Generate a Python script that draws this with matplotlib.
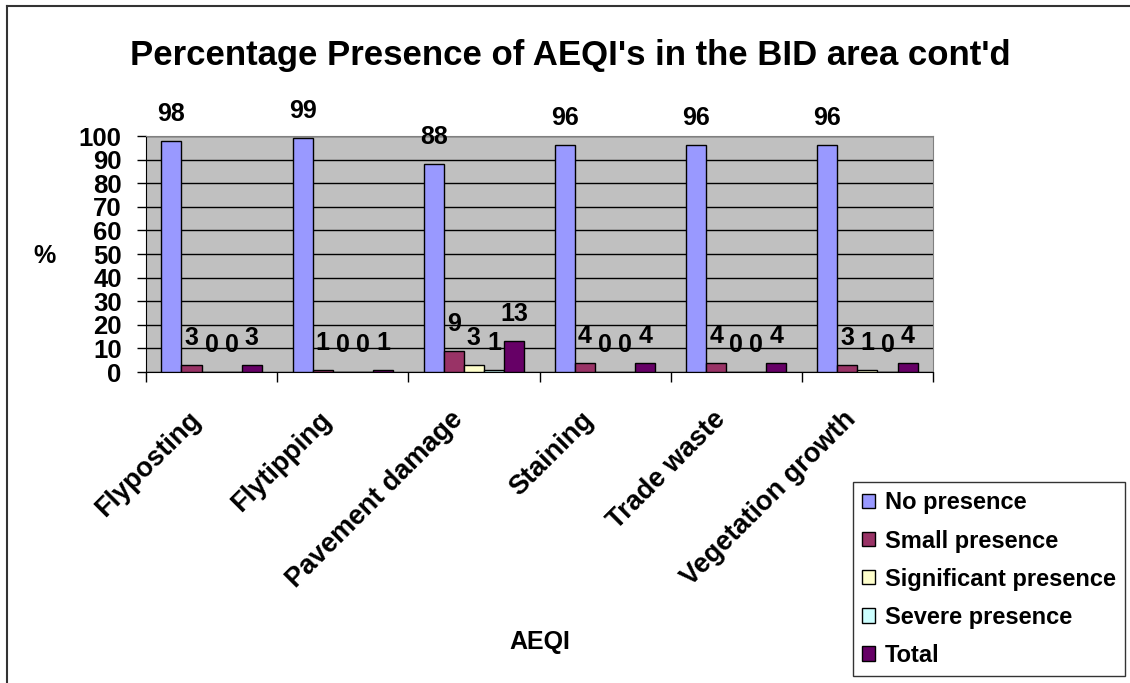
import numpy as np
import matplotlib
matplotlib.use("Agg")
import matplotlib.pyplot as plt
from matplotlib.lines import Line2D
from matplotlib.transforms import ScaledTranslation

plt.rcParams['font.family'] = ['Liberation Sans', 'DejaVu Sans']
plt.rcParams['font.weight'] = 'bold'

categories = ['Flyposting', 'Flytipping', 'Pavement damage', 'Staining',
              'Trade waste', 'Vegetation growth']
series_names = ['No presence', 'Small presence', 'Significant presence',
                'Severe presence', 'Total']
no_presence = [98, 99, 88, 96, 96, 96]
small_presence = [3, 1, 9, 4, 4, 3]
significant_presence = [0, 0, 3, 0, 0, 1]
severe_presence = [0, 0, 1, 0, 0, 0]
total = [3, 1, 13, 4, 4, 4]
yticks = list(range(0, 101, 10))

series = [no_presence, small_presence, significant_presence, severe_presence, total]
colors = ['#9999FF', '#993366', '#FFFFCC', '#CCFFFF', '#660066']

W, H = 1130, 683
fig = plt.figure(figsize=(W / 100, H / 100), dpi=100)
ax = fig.add_axes([146 / W, 1 - 372 / H, (933 - 146) / W, (372 - 136) / H])
ax.set_facecolor('#C0C0C0')

x = np.arange(len(categories))
bw = 0.153
for i, (vals, name, col) in enumerate(zip(series, series_names, colors)):
    pos = x + (i - 2) * bw
    ax.bar(pos, vals, width=bw, color=col, edgecolor='black', linewidth=1,
           label=name, zorder=3)
    for px, v in zip(pos, vals):
        ax.annotate(str(v), (px, v), xytext=(0, 14.4), textcoords='offset points',
                    ha='center', va='baseline', fontsize=18, fontweight='bold',
                    annotation_clip=False, zorder=5)

ax.set_xlim(-0.5, len(categories) - 0.5)
ax.set_ylim(0, 100)
ax.set_yticks(yticks)
ax.set_yticklabels([str(t) for t in yticks], fontsize=18.5, fontweight='bold')
ax.tick_params(axis='y', direction='out', length=6.5, width=1, pad=11)

ax.set_xticks(x)
ax.set_xticklabels(categories, rotation=45, ha='right', va='center',
                   rotation_mode='anchor', fontsize=19.5, fontweight='bold')
ax.tick_params(axis='x', which='major', length=0, pad=31.5)
ax.set_xticks(np.arange(-0.5, len(categories)), minor=True)
ax.tick_params(axis='x', which='minor', direction='out', length=7.2, width=1)
for lab in ax.get_xticklabels():
    lab.set_transform(lab.get_transform() + ScaledTranslation(-0.15, 0, fig.dpi_scale_trans))

ax.yaxis.grid(True, color='black', linewidth=1, zorder=1)
ax.set_axisbelow(True)
for s in ['top', 'right']:
    ax.spines[s].set_color('#808080')
for s in ['left', 'bottom']:
    ax.spines[s].set_color('black')

fig.text(570 / W, 1 - 55 / H, "Percentage Presence of AEQI's in the BID area cont'd",
         ha='center', va='center', fontsize=25, fontweight='bold')
fig.text(45 / W, 1 - 256 / H, '%', ha='center', va='center', fontsize=18,
         fontweight='bold')
fig.text(540 / W, 1 - 642 / H, 'AEQI', ha='center', va='center', fontsize=18,
         fontweight='bold')

leg = fig.legend(loc='upper left', bbox_to_anchor=(853 / W, 1 - 482 / H),
                 frameon=True, fancybox=False, shadow=False, fontsize=17,
                 handlelength=0.55, handleheight=0.55, handletextpad=0.4,
                 labelspacing=0.64, borderpad=0.4, borderaxespad=0)
leg.get_frame().set_edgecolor('black')
leg.get_frame().set_linewidth(1)
for t in leg.get_texts():
    t.set_fontweight('bold')

# outer chart border (top and left edges visible in the crop)
fig.add_artist(Line2D([7 / W, 7 / W], [0, 1 - 6 / H], transform=fig.transFigure,
                      color='#333333', linewidth=1.5))
fig.add_artist(Line2D([7 / W, 1], [1 - 6 / H, 1 - 6 / H], transform=fig.transFigure,
                      color='#333333', linewidth=1.5))

fig.savefig('out.png', dpi=100)
